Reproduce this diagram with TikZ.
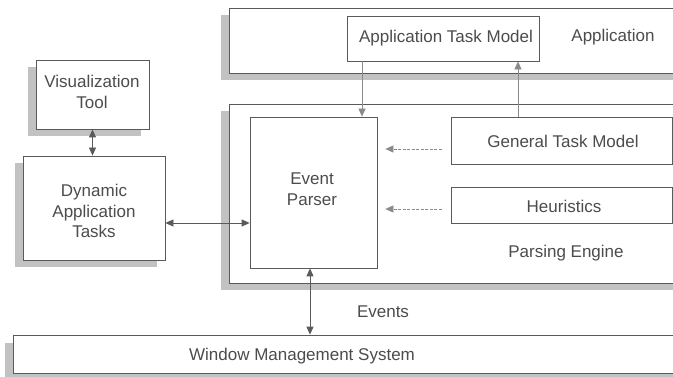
\documentclass[tikz,border=0pt]{standalone}
\usepackage{fontspec}
\setmainfont{Liberation Sans}
\usetikzlibrary{arrows.meta,shadows}
\definecolor{txtc}{HTML}{4C4C4C}
\definecolor{linec}{HTML}{5A5A5A}
\definecolor{lightc}{HTML}{8A8A8A}
\definecolor{shadc}{HTML}{C2C2C2}
\tikzset{
  plainbox/.style={draw=linec, line width=0.8pt, fill=white, inner sep=0pt, anchor=center},
  shbox/.style={plainbox, general shadow={shadow xshift=-8.5pt, shadow yshift=-7.5pt, fill=shadc, draw=none}},
  lbl/.style={text=txtc, font=\fontsize{17}{20.5}\selectfont, align=center, inner sep=0pt, anchor=center},
  dbl/.style={draw=linec, line width=0.8pt, {Triangle[width=7pt,length=8pt]}-{Triangle[width=7pt,length=8pt]}},
  thinarr/.style={draw=lightc, line width=0.6pt, -{Triangle[width=7pt,length=8pt]}},
  dasharr/.style={draw=lightc, line width=0.6pt, dash pattern=on 3pt off 1.5pt, -{Triangle[width=7pt,length=8pt]}}
}
\begin{document}
\begin{tikzpicture}[x=1pt,y=-1pt]
\clip (0,0) rectangle (673,377);
\fill[white] (0,0) rectangle (673,377);
% containers
\node[shbox, minimum width=461pt, minimum height=65pt] (app) at (459.5,40.5) {};
\node[shbox, minimum width=461pt, minimum height=179pt] (pe) at (459.5,193.5) {};
\node[shbox, minimum width=677pt, minimum height=38pt] (wms) at (351.5,354) {};
\node[shbox, minimum width=113pt, minimum height=69pt] (vis) at (92.5,94.5) {};
\node[shbox, minimum width=142pt, minimum height=104pt] (dyn) at (94,208) {};
% inner boxes
\node[plainbox, minimum width=192pt, minimum height=45pt] (atm) at (443,38.5) {};
\node[plainbox, minimum width=127pt, minimum height=151pt] (ep) at (313.5,192.5) {};
\node[plainbox, minimum width=221pt, minimum height=47pt] (gtm) at (561.5,140.5) {};
\node[plainbox, minimum width=221pt, minimum height=36pt] (heur) at (561.5,205) {};
% labels
\node[lbl] (atmt) at (446,38.5) {Application Task Model};
\node[lbl] (appt) at (613,37) {Application};
\node[lbl] (gtmt) at (563,141) {General Task Model};
\node[lbl] (heurt) at (564,206) {Heuristics};
\node[lbl] (pet) at (566,253) {Parsing Engine};
\node[lbl] (ept) at (312,189) {Event\\Parser};
\node[lbl] (vist) at (92,92) {Visualization\\Tool};
\node[lbl] (dynt) at (94,211) {Dynamic\\Application\\Tasks};
\node[lbl] (evt) at (383,312) {Events};
\node[lbl] (wmst) at (302,356) {Window Management System};
% connectors
\draw[dbl] (vis.south) -- (vis.south |- dyn.north);
\draw[dbl] ([yshift=-15pt]dyn.east) -- ([yshift=-15pt]dyn.east -| ep.west);
\draw[dbl] ([xshift=-3.5pt]ep.south) -- ([xshift=-3.5pt]ep.south |- wms.north);
\draw[thinarr] ([xshift=-81pt]atm.south) -- ([xshift=-81pt]atm.south |- ep.north);
\draw[thinarr] ([xshift=75pt]atm.south |- gtm.north) -- ([xshift=75pt]atm.south);
\draw[dasharr, shorten <=9pt, shorten >=8pt] ([yshift=-8.5pt]gtm.west) -- ([yshift=-8.5pt]gtm.west -| ep.east);
\draw[dasharr, shorten <=9pt, shorten >=8pt] ([yshift=-4pt]heur.west) -- ([yshift=-4pt]heur.west -| ep.east);
\end{tikzpicture}
\end{document}
